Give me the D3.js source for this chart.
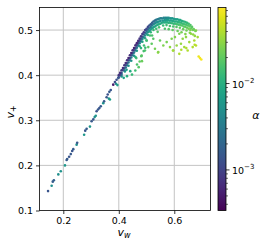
<!DOCTYPE html>
<html>
<head>
<meta charset="utf-8">
<script src="https://cdn.jsdelivr.net/npm/d3@7"></script>
<style>
body {margin:0; background:#fff}
svg {font-family:"DejaVu Sans", sans-serif}
</style>
</head>
<body>
<svg id="chart" width="266" height="244"></svg>
<script>
// [v_w, v_+, alpha]
const diagPts = [
	[0.145,0.143,1.4e-3],[0.158,0.155,5e-3],[0.162,0.164,1.6e-3],[0.166,0.167,1.8e-3],
	[0.182,0.180,5e-3],[0.191,0.187,5.5e-3],[0.206,0.200,6e-3],[0.212,0.212,1.5e-3],
	[0.214,0.214,1.6e-3],[0.221,0.219,1.4e-3],[0.227,0.225,1.5e-3],[0.232,0.232,1.4e-3],
	[0.236,0.236,1.6e-3],[0.248,0.246,5e-3],[0.250,0.250,1.5e-3],[0.275,0.268,6e-3],
	[0.279,0.277,1.4e-3],[0.284,0.281,1.6e-3],[0.296,0.286,6e-3],[0.302,0.298,1.5e-3],
	[0.308,0.302,1.4e-3],[0.313,0.307,5e-3],[0.317,0.310,6e-3],[0.320,0.320,1.3e-3],
	[0.325,0.324,1.5e-3],[0.330,0.327,1.4e-3],[0.335,0.331,1.6e-3],[0.344,0.338,5.5e-3],
	[0.347,0.342,1.5e-3],[0.356,0.351,1.4e-3],[0.360,0.357,1.3e-3],[0.364,0.348,6e-3],
	[0.368,0.346,7e-3],[0.366,0.363,1.5e-3],[0.371,0.367,1.4e-3],[0.380,0.379,5e-4],
	[0.386,0.385,1.2e-3],[0.390,0.381,5.5e-3],[0.392,0.390,1.3e-3],[0.395,0.378,7e-3],
	[0.398,0.394,1.4e-3],[0.410,0.397,6e-3],[0.422,0.408,7e-3],[0.428,0.412,8e-3]
]

const bandPts = [
	[0.400,0.400,8e-4],[0.405,0.405,7e-4],[0.410,0.411,8e-4],[0.415,0.416,7e-4],[0.420,0.422,8e-4],
	[0.425,0.427,7e-4],[0.430,0.433,7e-4],[0.435,0.438,6e-4],[0.440,0.444,7e-4],[0.445,0.449,6e-4],
	[0.450,0.455,7e-4],[0.455,0.460,6e-4],[0.460,0.466,7e-4],[0.465,0.471,6e-4],[0.470,0.476,7e-4],
	[0.475,0.481,8e-4],[0.480,0.486,8e-4],[0.485,0.491,9e-4],[0.490,0.495,9e-4],[0.495,0.500,1e-3],
	[0.500,0.503,1.1e-3],[0.505,0.507,1.2e-3],[0.510,0.510,1.4e-3],[0.515,0.513,1.6e-3],[0.520,0.516,1.8e-3],
	[0.525,0.519,2.1e-3],[0.530,0.521,2.5e-3],[0.535,0.523,2.9e-3],[0.540,0.524,3.3e-3],[0.545,0.525,3.7e-3],
	[0.550,0.526,4e-3],
	[0.400,0.395,1.5e-3],[0.405,0.400,1.4e-3],[0.410,0.405,1.6e-3],[0.415,0.411,1.5e-3],[0.420,0.416,1.6e-3],
	[0.425,0.422,1.5e-3],[0.430,0.427,1.6e-3],[0.435,0.433,1.5e-3],[0.440,0.438,1.6e-3],[0.445,0.444,1.5e-3],
	[0.450,0.449,1.6e-3],[0.455,0.455,1.5e-3],[0.460,0.460,1.6e-3],[0.465,0.466,1.5e-3],[0.470,0.471,1.6e-3],
	[0.475,0.476,1.7e-3],[0.480,0.481,1.8e-3],[0.485,0.485,2e-3],[0.490,0.490,2.1e-3],[0.495,0.494,2.3e-3],
	[0.500,0.498,2.5e-3],[0.505,0.501,2.7e-3],[0.510,0.504,3e-3],[0.515,0.507,3.3e-3],[0.520,0.510,3.6e-3],
	[0.525,0.513,4e-3],[0.530,0.515,4.4e-3],[0.535,0.517,4.8e-3],[0.540,0.518,5.2e-3],[0.545,0.519,5.6e-3],
	[0.550,0.520,6e-3],
	[0.410,0.401,3e-3],[0.420,0.411,3.2e-3],[0.425,0.417,3e-3],[0.430,0.422,3.4e-3],[0.435,0.428,3.2e-3],
	[0.440,0.433,3.5e-3],[0.445,0.439,3.3e-3],[0.450,0.444,3.6e-3],[0.455,0.450,3.4e-3],[0.460,0.455,3.8e-3],
	[0.465,0.461,3.6e-3],[0.470,0.466,4e-3],[0.475,0.471,4.2e-3],[0.480,0.475,4.5e-3],[0.485,0.480,4.8e-3],
	[0.490,0.484,5e-3],[0.495,0.488,5.4e-3],[0.500,0.492,5.8e-3],[0.505,0.495,6.2e-3],[0.510,0.498,6.6e-3],
	[0.515,0.501,7e-3],[0.520,0.504,7.5e-3],[0.525,0.506,8e-3],[0.530,0.508,8.5e-3],[0.535,0.510,9e-3],
	[0.540,0.512,9.5e-3],[0.545,0.513,1e-2],[0.550,0.514,1.05e-2],
	[0.435,0.421,6e-3],[0.445,0.432,6.5e-3],[0.455,0.443,7e-3],[0.465,0.454,7.5e-3],[0.475,0.464,8e-3],
	[0.485,0.474,9e-3],[0.495,0.482,1e-2],[0.505,0.489,1.1e-2],[0.515,0.495,1.2e-2],[0.525,0.500,1.3e-2],
	[0.535,0.503,1.4e-2],[0.545,0.506,1.5e-2],
	[0.460,0.440,1.1e-2],[0.480,0.460,1.2e-2],[0.500,0.477,1.4e-2],[0.520,0.488,1.6e-2],[0.540,0.496,1.8e-2]
]

const plateauPts = [
	[0.555,0.526,3.5e-3],[0.562,0.527,4e-3],[0.568,0.527,4.3e-3],[0.574,0.527,4.7e-3],[0.580,0.527,5e-3],
	[0.586,0.526,5.5e-3],[0.592,0.526,6e-3],[0.598,0.525,6.5e-3],[0.604,0.524,7e-3],[0.610,0.524,7.5e-3],
	[0.616,0.523,8e-3],[0.622,0.522,9e-3],[0.628,0.520,1e-2],[0.634,0.519,1.1e-2],[0.640,0.518,1.2e-2],
	[0.646,0.516,1.3e-2],[0.652,0.514,1.5e-2],[0.658,0.511,1.7e-2],[0.664,0.507,1.9e-2],[0.670,0.502,2.2e-2],
	[0.676,0.498,2.5e-2],
	[0.558,0.521,6e-3],[0.565,0.522,6.5e-3],[0.571,0.522,7e-3],[0.577,0.522,7.5e-3],[0.583,0.521,8e-3],
	[0.589,0.521,8.5e-3],[0.595,0.520,9e-3],[0.601,0.519,1e-2],[0.607,0.519,1.05e-2],[0.613,0.518,1.1e-2],
	[0.619,0.517,1.2e-2],[0.625,0.516,1.3e-2],[0.631,0.514,1.4e-2],[0.637,0.513,1.5e-2],[0.643,0.512,1.6e-2],
	[0.649,0.510,1.8e-2],[0.655,0.508,2e-2],[0.661,0.504,2.2e-2],[0.667,0.500,2.5e-2],
	[0.555,0.516,9e-3],[0.562,0.517,9.5e-3],[0.568,0.517,1e-2],[0.574,0.517,1.05e-2],[0.580,0.516,1.1e-2],
	[0.586,0.516,1.2e-2],[0.592,0.515,1.25e-2],[0.598,0.514,1.3e-2],[0.604,0.514,1.4e-2],[0.610,0.513,1.5e-2],
	[0.616,0.512,1.6e-2],[0.622,0.511,1.7e-2],[0.628,0.510,1.8e-2],[0.634,0.508,1.9e-2],[0.640,0.507,2e-2],
	[0.646,0.505,2.2e-2],[0.652,0.503,2.4e-2],[0.658,0.500,2.6e-2],
	[0.560,0.510,1.3e-2],[0.572,0.511,1.4e-2],[0.584,0.509,1.5e-2],[0.596,0.508,1.6e-2],[0.608,0.507,1.8e-2],
	[0.620,0.505,2e-2],[0.632,0.502,2.2e-2],[0.644,0.499,2.4e-2],[0.656,0.494,2.7e-2],[0.668,0.490,3e-2],
	[0.566,0.503,1.6e-2],[0.580,0.502,1.8e-2],[0.594,0.500,2e-2],[0.612,0.498,2.2e-2],[0.626,0.495,2.4e-2],
	[0.640,0.491,2.7e-2],[0.674,0.487,3.2e-2]
]

const scatterPts = [
	[0.4955,0.4607,1.3e-2],[0.4897,0.4533,1.5e-2],[0.4811,0.4422,1.8e-2],[0.4836,0.4311,2.2e-2],
	[0.4656,0.4236,1.6e-2],[0.4717,0.4178,1.8e-2],[0.4595,0.4102,1.4e-2],[0.4414,0.4089,9e-3],
	[0.4476,0.4013,1.3e-2],[0.4295,0.3978,1e-2],[0.4177,0.3940,8e-3],[0.4825,0.4436,2e-2],
	[0.4944,0.4547,1.8e-2],[0.5063,0.4622,2e-2],[0.4908,0.4658,1.4e-2],[0.5186,0.4696,2e-2],
	[0.5304,0.4584,2.4e-2],[0.5423,0.4511,2.8e-2],[0.5604,0.4658,2.6e-2],[0.5726,0.4733,2.5e-2],
	[0.5845,0.4622,3e-2],[0.5964,0.4547,3.5e-2],[0.6086,0.4658,3.2e-2],[0.5906,0.4807,2.6e-2],
	[0.6025,0.4844,2.7e-2],[0.5485,0.4769,2.2e-2],[0.5243,0.4807,1.8e-2],[0.5005,0.4769,1.5e-2],
	[0.5124,0.4880,1.5e-2],[0.6180,0.4918,2.6e-2],[0.6303,0.4807,3e-2],[0.6422,0.4844,3e-2],
	[0.6541,0.4733,3.4e-2],[0.6241,0.4696,3.2e-2],[0.6360,0.4622,3.6e-2],[0.6663,0.4622,4e-2],
	[0.6483,0.4547,4e-2],[0.6180,0.4473,4e-2],[0.6782,0.4658,4.2e-2],[0.6721,0.4769,3.8e-2],
	[0.6602,0.4918,3.2e-2],[0.6782,0.4991,3e-2],[0.6843,0.4844,3.6e-2],[0.6879,0.4413,6.5e-2],
	[0.6926,0.4378,7e-2],[0.6973,0.4347,7.2e-2],[0.5413,0.4502,3e-2],[0.4753,0.4302,2e-2],
	[0.4631,0.4378,1.5e-2],[0.5953,0.4547,3.6e-2],[0.6252,0.4562,4e-2],[0.6432,0.4600,4e-2],
	[0.6735,0.4673,4.2e-2]
]

const xTicks = [0.2, 0.4, 0.6]
const yTicks = [0.1, 0.2, 0.3, 0.4, 0.5]
const cMajor = [1e-3, 1e-2]
const cMinor = [4e-4,5e-4,6e-4,7e-4,8e-4,9e-4,2e-3,3e-3,4e-3,5e-3,6e-3,7e-3,8e-3,9e-3,2e-2,3e-2,4e-2,5e-2,6e-2,7e-2]

/*** scales ***/
const L = 39.5, R = 210.5, T = 7.5, B = 210.5
const x = d3.scaleLinear().domain([0.1142, 0.7305]).range([L, R])
const y = d3.scaleLinear().domain([0.1, 0.55]).range([B, T])
const cy = d3.scaleLog().domain([3.39e-4, 0.0759]).range([B, T])
const col = (a) => d3.interpolateViridis((Math.log10(a) - Math.log10(3.39e-4)) / (Math.log10(0.0759) - Math.log10(3.39e-4)))

const svg = d3.select("#chart")

// grid
const g = svg.append("g").attr("stroke", "#c4c4c4").attr("stroke-width", 1)
g.selectAll(".gx").data(xTicks).enter().append("line")
 .attr("x1", d => x(d)).attr("x2", d => x(d)).attr("y1", T).attr("y2", B)
g.selectAll(".gy").data(yTicks.slice(1)).enter().append("line")
 .attr("x1", L).attr("x2", R).attr("y1", d => y(d)).attr("y2", d => y(d))

// points, dark ones on top
const pts = diagPts.concat(bandPts, plateauPts, scatterPts).sort((a, b) => b[2] - a[2])
svg.append("g").selectAll("circle").data(pts).enter().append("circle")
 .attr("cx", d => x(d[0])).attr("cy", d => y(d[1])).attr("r", 1.3)
 .attr("fill", d => col(d[2]))

// axes
const ax = svg.append("g").attr("transform", "translate(0," + B + ")")
 .call(d3.axisBottom(x).tickValues(xTicks).tickSize(3.5).tickSizeOuter(0).tickPadding(3).tickFormat(d3.format(".1f")))
const ay = svg.append("g").attr("transform", "translate(" + L + ",0)")
 .call(d3.axisLeft(y).tickValues(yTicks).tickSize(3.5).tickSizeOuter(0).tickPadding(3).tickFormat(d3.format(".1f")))
;[ax, ay].forEach(a => {
	a.select(".domain").remove()
	a.selectAll("text").attr("font-size", 9.5).attr("fill", "#000").attr("font-family", "DejaVu Sans")
	a.selectAll("line").attr("stroke", "#000").attr("stroke-width", 0.8)
})
svg.append("rect").attr("x", L).attr("y", T).attr("width", R - L).attr("height", B - T)
 .attr("fill", "none").attr("stroke", "#000").attr("stroke-width", 0.8)

// axis labels
const xl = svg.append("text").attr("x", 117.5).attr("y", 235.5).attr("font-size", 11).attr("font-style", "italic")
xl.append("tspan").text("v")
xl.append("tspan").text("w").attr("font-size", 8).attr("dy", 2.5)
const yl = svg.append("text").attr("transform", "translate(13.5,112) rotate(-90)").attr("text-anchor", "middle")
 .attr("font-size", 11).attr("font-style", "italic")
yl.append("tspan").text("v")
yl.append("tspan").text("+").attr("font-size", 8).attr("dy", 2.5).attr("font-style", "normal")

/*** colorbar ***/
const CL = 218, CR = 226
const grad = svg.append("defs").append("linearGradient").attr("id", "vir")
 .attr("x1", 0).attr("y1", 1).attr("x2", 0).attr("y2", 0)
d3.range(0, 1.0001, 0.05).forEach(t => {
	grad.append("stop").attr("offset", t).attr("stop-color", d3.interpolateViridis(t))
})
svg.append("rect").attr("x", CL).attr("y", T).attr("width", CR - CL).attr("height", B - T)
 .attr("fill", "url(#vir)").attr("stroke", "#000").attr("stroke-width", 0.8)
svg.append("g").selectAll("line").data(cMinor).enter().append("line")
 .attr("x1", CR).attr("x2", CR + 2).attr("y1", d => cy(d)).attr("y2", d => cy(d))
 .attr("stroke", "#000").attr("stroke-width", 0.6)
const cm = svg.append("g").selectAll("g").data(cMajor).enter().append("g")
 .attr("transform", d => "translate(" + CR + "," + cy(d) + ")")
cm.append("line").attr("x2", 3.5).attr("stroke", "#000").attr("stroke-width", 0.8)
const ct = cm.append("text").attr("x", 6).attr("y", 4).attr("font-size", 9.5)
ct.append("tspan").text("10")
ct.append("tspan").text(d => "\u2212" + Math.round(-Math.log10(d))).attr("font-size", 7).attr("dy", -4.5)

svg.append("text").attr("x", 256).attr("y", 118.5).attr("text-anchor", "middle")
 .attr("font-size", 11).attr("font-style", "italic").text("\u03b1")
</script>
</body>
</html>
